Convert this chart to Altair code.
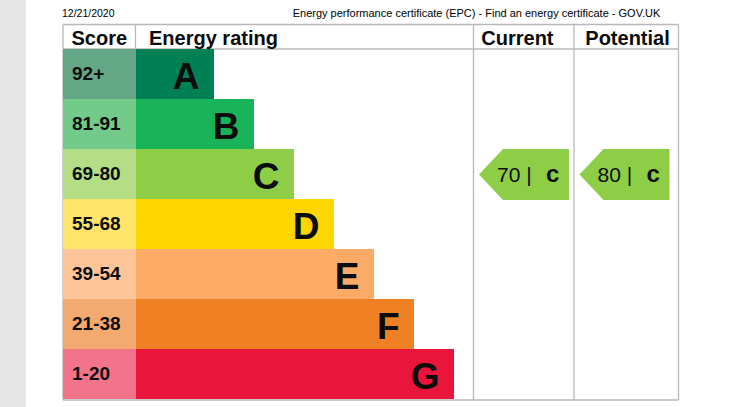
import altair as alt
import pandas as pd

# ---------------- data ----------------
bands = ["A", "B", "C", "D", "E", "F", "G"]
score_ranges = ["92+", "81-91", "69-80", "55-68", "39-54", "21-38", "1-20"]
bar_steps = [1, 2, 3, 4, 5, 6, 7]
bar_colors = ["#008054", "#19b459", "#8dce46", "#ffd500", "#fcaa65", "#ef8023", "#e9153b"]
score_colors = ["#64a786", "#72ca8b", "#b3de86", "#fee46b", "#fdc598", "#f3a96f", "#f2738a"]
header_labels = ["Score", "Energy rating", "Current", "Potential"]
rating_columns = ["Current", "Potential"]
rating_scores = [70, 80]
rating_bands = ["C", "C"]
date_text = "12/21/2020"
page_title = "Energy performance certificate (EPC) - Find an energy certificate - GOV.UK"

# ---------------- layout ----------------
W, H = 744, 407
STRIP_W = 26
T_LEFT, T_RIGHT, T_TOP, HEAD_BOTTOM, ROW_H = 63, 678.5, 24.5, 49, 50
SCORE_RIGHT = 136
BAR_BASE, BAR_STEP = 38, 40
COL_LEFTS = [473.5, 574]
T_BOTTOM = HEAD_BOTTOM + ROW_H * len(bands) + 1
FONT = "Liberation Sans"
TEXT_COL = "#0b0c0c"
LINE_COL = "#b8b8b8"

rows = pd.DataFrame({
    "band": bands, "score": score_ranges, "step": bar_steps,
    "bar_color": bar_colors, "score_color": score_colors,
})
rows["i"] = range(len(rows))
rows["y0"] = HEAD_BOTTOM + ROW_H * rows["i"]
rows["y1"] = rows["y0"] + ROW_H
rows["x_score0"] = T_LEFT
rows["x_score1"] = SCORE_RIGHT
rows["bar_x2"] = SCORE_RIGHT + BAR_BASE + BAR_STEP * rows["step"]
rows["letter_x"] = rows["bar_x2"] - 14.5
rows["letter_y"] = rows["y0"] + 39.5
rows["score_x"] = T_LEFT + 9
rows["score_y"] = rows["y0"] + 30.5

band_index = {b: i for i, b in enumerate(bands)}
ratings = pd.DataFrame({"column": rating_columns, "score": rating_scores, "band": rating_bands})
ratings["col_left"] = COL_LEFTS
ratings["row_top"] = [HEAD_BOTTOM + ROW_H * band_index[b] for b in rating_bands]
ratings["arrow_x"] = ratings["col_left"] + 50.5
ratings["arrow_y"] = ratings["row_top"] + 25.5
ratings["color"] = [bar_colors[band_index[b]] for b in rating_bands]
ratings["num_label"] = ratings["score"].astype(str) + " |"
ratings["num_x"] = ratings["col_left"] + 23.5
ratings["letter_label"] = ratings["band"].str.lower()
ratings["letter_x"] = ratings["col_left"] + 72.5
ratings["text_y"] = ratings["row_top"] + 32.7

headers = pd.DataFrame({
    "label": header_labels,
    "x": [71.5, 149, 481.3, 585.3],
    "y": [45, 45, 45, 45],
})

lines = pd.DataFrame({
    "x": [T_LEFT, T_LEFT, T_LEFT, T_LEFT, SCORE_RIGHT - 0.5, COL_LEFTS[0], COL_LEFTS[1], T_RIGHT],
    "x2": [T_RIGHT, T_RIGHT, T_RIGHT, T_LEFT, SCORE_RIGHT - 0.5, COL_LEFTS[0], COL_LEFTS[1], T_RIGHT],
    "y": [T_TOP, HEAD_BOTTOM, T_BOTTOM, T_TOP, T_TOP, T_TOP, T_TOP, T_TOP],
    "y2": [T_TOP, HEAD_BOTTOM, T_BOTTOM, T_BOTTOM, HEAD_BOTTOM, T_BOTTOM, T_BOTTOM, T_BOTTOM],
})

strip = pd.DataFrame({"x": [0], "x2": [STRIP_W], "y": [0], "y2": [H]})
top_texts = pd.DataFrame({
    "label": [date_text, page_title],
    "x": [62, 476.5],
    "y": [16.7, 16.7],
    "size": [10.5, 11],
})

xs = alt.Scale(domain=[0, W], nice=False, zero=False)
ys = alt.Scale(domain=[0, H], nice=False, zero=False, reverse=True)


def X(f):
    return alt.X(f, type="quantitative", scale=xs, axis=None)


def Y(f):
    return alt.Y(f, type="quantitative", scale=ys, axis=None)


strip_layer = alt.Chart(strip).mark_rect(color="#e6e6e6").encode(
    x=X("x"), x2="x2", y=Y("y"), y2="y2")

line_layer = alt.Chart(lines).mark_rule(color=LINE_COL, strokeWidth=1.3).encode(
    x=X("x"), x2="x2", y=Y("y"), y2="y2")

score_rects = alt.Chart(rows).mark_rect().encode(
    x=X("x_score0"), x2="x_score1", y=Y("y0"), y2="y1",
    color=alt.Color("score_color:N", scale=None))

bar_rects = alt.Chart(rows).mark_rect().encode(
    x=X("x_score1"), x2="bar_x2", y=Y("y0"), y2="y1",
    color=alt.Color("bar_color:N", scale=None))

score_text = alt.Chart(rows).mark_text(
    font=FONT, fontSize=19, fontWeight="bold", align="left", baseline="alphabetic",
    color=TEXT_COL).encode(x=X("score_x"), y=Y("score_y"), text="score:N")

letter_text = alt.Chart(rows).mark_text(
    font=FONT, fontSize=37, fontWeight="bold", align="right", baseline="alphabetic",
    color=TEXT_COL).encode(x=X("letter_x"), y=Y("letter_y"), text="band:N")

header_text = alt.Chart(headers).mark_text(
    font=FONT, fontSize=20, fontWeight="bold", align="left", baseline="alphabetic",
    color=TEXT_COL).encode(x=X("x"), y=Y("y"), text="label:N")

arrow_path = "M -1 0 L -0.467 -0.567 L 1 -0.567 L 1 0.567 L -0.467 0.567 Z"
arrows = alt.Chart(ratings).mark_point(
    shape=arrow_path, filled=True, size=8100, opacity=1, strokeWidth=0).encode(
    x=X("arrow_x"), y=Y("arrow_y"), color=alt.Color("color:N", scale=None))

num_text = alt.Chart(ratings).mark_text(
    font=FONT, fontSize=21, align="left", baseline="alphabetic", color=TEXT_COL).encode(
    x=X("num_x"), y=Y("text_y"), text="num_label:N")

rating_letter = alt.Chart(ratings).mark_text(
    font=FONT, fontSize=24, fontWeight="bold", align="left", baseline="alphabetic",
    color=TEXT_COL).encode(x=X("letter_x"), y=Y("text_y"), text="letter_label:N")

date_layer = alt.Chart(top_texts.iloc[[0]]).mark_text(
    font=FONT, fontSize=10.5, align="left", baseline="alphabetic", color="#000000").encode(
    x=X("x"), y=Y("y"), text="label:N")
title_layer = alt.Chart(top_texts.iloc[[1]]).mark_text(
    font=FONT, fontSize=11, align="center", baseline="alphabetic", color="#000000").encode(
    x=X("x"), y=Y("y"), text="label:N")

chart = alt.layer(
    strip_layer, line_layer, score_rects, bar_rects, score_text, letter_text,
    header_text, arrows, num_text, rating_letter, date_layer, title_layer,
).properties(
    width=W, height=H, padding=0, background="white",
    autosize=alt.AutoSizeParams(type="none"),
).configure_view(stroke=None)

chart.save("out.html", embed_options={"renderer": "svg", "actions": False})
